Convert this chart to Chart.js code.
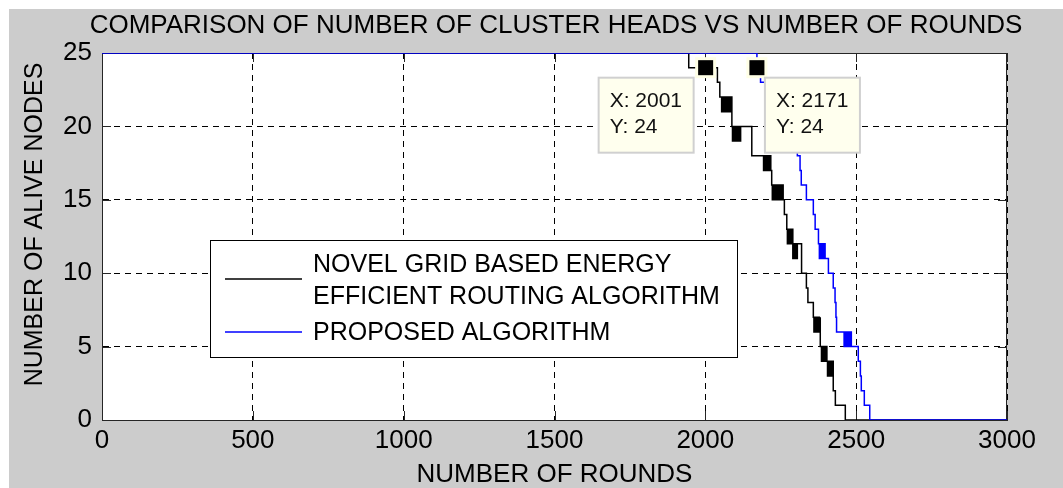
<!DOCTYPE html>
<html>
<head>
<meta charset="utf-8">
<script src="https://cdn.jsdelivr.net/npm/chart.js@4/dist/chart.umd.min.js"></script>
<style>
    html, body { margin: 0; padding: 0; background: #fff; }
    #wrap { width: 1063px; height: 488px; }
</style>
</head>
<body>
<div id="wrap"><canvas id="chart" width="1063" height="488"></canvas></div>
<script>
// texts
const chartTitle = "COMPARISON OF NUMBER OF CLUSTER HEADS VS NUMBER OF ROUNDS";
const xTitle = "NUMBER OF ROUNDS";
const yTitle = "NUMBER OF ALIVE NODES";
const seriesNames = [["NOVEL GRID BASED ENERGY", "EFFICIENT ROUTING ALGORITHM"], ["PROPOSED ALGORITHM"]];

// axes
const xTicks = [0, 500, 1000, 1500, 2000, 2500, 3000];
const yTicks = [0, 5, 10, 15, 20, 25];

// [round, value] = value from that round on
// [from, to, a, b] = value flickers between a and b over that range
const novelSteps = [
    [0, 25], [1945, 24], [2040, 23], [2048, 22],
    [2054, 2088, 22, 21], [2088, 20],
    [2090, 2118, 20, 19], [2118, 20],
    [2154, 18], [2193, 2218, 18, 17], [2220, 16],
    [2222, 2259, 16, 15], [2259, 15], [2262, 14], [2270, 13],
    [2272, 2290, 13, 12], [2290, 2305, 12, 11], [2306, 12],
    [2319, 10], [2335, 9], [2340, 8], [2358, 7],
    [2360, 2381, 7, 6], [2381, 5],
    [2385, 2405, 5, 4], [2405, 2422, 4, 3],
    [2424, 2], [2431, 1], [2464, 0], [3000, 0]
];
const proposedSteps = [
    [0, 25], [2171, 24], [2183, 23], [2210, 22], [2240, 21], [2265, 20],
    [2290, 19], [2305, 18], [2314, 17], [2318, 16], [2335, 15],
    [2358, 14], [2364, 13], [2375, 12],
    [2378, 2395, 12, 11], [2397, 11], [2408, 10], [2424, 9],
    [2430, 8], [2433, 7], [2435, 6],
    [2460, 2485, 6, 5], [2486, 5], [2507, 4], [2514, 3], [2517, 2],
    [2527, 1], [2545, 0], [3000, 0]
];

// data tips shown on the plot: [x, y]
const dataTips = [[2001, 24], [2171, 24]];

const seriesColors = ["#000000", "#0000ff"];
const FONT = "'Liberation Sans', Arial, sans-serif";

/**
 * step list -> chart points
 */
function buildPoints(steps) {
    let pts = [];
    steps.forEach(s => {
        if (s.length === 2) {
            pts.push({ x: s[0], y: s[1] });
        } else {
            let [r0, r1, a, b] = s;
            let v = b;
            for (let r = r0; r <= r1; r += 3) {
                pts.push({ x: r, y: v });
                v = (v === a) ? b : a;
            }
        }
    });
    return pts;
}

// figure background, box, ticks, texts, legend, data tips
const matlabLook = {
    id: "matlabLook",
    beforeDraw(chart) {
        const ctx = chart.ctx;
        const a = chart.chartArea;
        ctx.save();
        ctx.fillStyle = "#ffffff";
        ctx.fillRect(0, 0, chart.width, chart.height);
        ctx.fillStyle = "#cccccc";
        ctx.fillRect(9, 9, chart.width - 9, chart.height - 9);
        ctx.fillStyle = "#ffffff";
        ctx.fillRect(a.left, a.top, a.right - a.left, a.bottom - a.top);
        ctx.restore();
    },
    beforeDatasetsDraw(chart) {
        const ctx = chart.ctx;
        const a = chart.chartArea;
        const xs = chart.scales.x, ys = chart.scales.y;
        ctx.save();
        ctx.strokeStyle = "#262626";
        ctx.lineWidth = 1;
        ctx.beginPath();
        ctx.moveTo(a.left, a.top + 0.5);
        ctx.lineTo(a.right, a.top + 0.5);
        ctx.moveTo(a.right - 0.5, a.top);
        ctx.lineTo(a.right - 0.5, a.bottom);
        // inside ticks
        const len = 9;
        xTicks.forEach(v => {
            let px = Math.round(xs.getPixelForValue(v)) + 0.5;
            ctx.moveTo(px, a.bottom);
            ctx.lineTo(px, a.bottom - len);
            ctx.moveTo(px, a.top);
            ctx.lineTo(px, a.top + len);
        });
        yTicks.forEach(v => {
            let py = Math.round(ys.getPixelForValue(v)) + 0.5;
            ctx.moveTo(a.left, py);
            ctx.lineTo(a.left + len, py);
            ctx.moveTo(a.right, py);
            ctx.lineTo(a.right - len, py);
        });
        ctx.stroke();
        ctx.restore();
    },
    afterDraw(chart) {
        const ctx = chart.ctx;
        const a = chart.chartArea;
        const xs = chart.scales.x, ys = chart.scales.y;
        ctx.save();
        ctx.fillStyle = "#000";

        // title + axis titles
        ctx.font = "26px " + FONT;
        ctx.textAlign = "center";
        ctx.textBaseline = "alphabetic";
        ctx.fillText(chartTitle, 556, 33);
        ctx.fillText(xTitle, (a.left + a.right) / 2, 482);
        ctx.save();
        ctx.font = "25px " + FONT;
        ctx.translate(42, (a.top + a.bottom) / 2 - 12);
        ctx.rotate(-Math.PI / 2);
        ctx.fillText(yTitle, 0, 0);
        ctx.restore();

        // legend
        ctx.fillStyle = "#ffffff";
        ctx.fillRect(210, 240, 527, 117);
        ctx.strokeStyle = "#000";
        ctx.lineWidth = 1;
        ctx.strokeRect(210.5, 240.5, 527, 117);
        ctx.font = "25px " + FONT;
        ctx.textAlign = "left";
        ctx.textBaseline = "middle";
        ctx.fillStyle = "#000";
        ctx.fillText(seriesNames[0][0], 313, 265);
        ctx.fillText(seriesNames[0][1], 313, 297);
        ctx.fillText(seriesNames[1][0], 313, 333);
        ctx.lineWidth = 1.5;
        ctx.strokeStyle = seriesColors[0];
        ctx.beginPath(); ctx.moveTo(225, 279); ctx.lineTo(302, 279); ctx.stroke();
        ctx.strokeStyle = seriesColors[1];
        ctx.beginPath(); ctx.moveTo(225, 332); ctx.lineTo(302, 332); ctx.stroke();

        // data tips
        dataTips.forEach((t, i) => {
            let px = xs.getPixelForValue(t[0]);
            let py = ys.getPixelForValue(t[1]);
            ctx.fillStyle = "#ffffe6";
            ctx.fillRect(px - 10.5, py - 10.5, 21, 21);
            ctx.fillStyle = "#000";
            ctx.fillRect(px - 7.5, py - 7.5, 15, 15);

            let w = 95, h = 75;
            let bx = i === 0 ? px - 12 - w : px + 8;
            let by = py + 10;
            ctx.fillStyle = "#ffffee";
            ctx.fillRect(bx, by, w, h);
            ctx.strokeStyle = "#d0d0d0";
            ctx.lineWidth = 2;
            ctx.strokeRect(bx, by, w, h);
            ctx.fillStyle = "#111";
            ctx.font = "21px " + FONT;
            ctx.textAlign = "left";
            ctx.textBaseline = "middle";
            ctx.fillText("X: " + t[0], bx + 11, by + 24);
            ctx.fillText("Y: " + t[1], bx + 11, by + 50);
        });
        ctx.restore();
    }
};

function createChart() {
    let ctx = document.getElementById("chart").getContext("2d");
    return new Chart(ctx, {
        type: "line",
        data: {
            datasets: [
                {
                    label: seriesNames[1].join(" "),
                    data: buildPoints(proposedSteps),
                    borderColor: seriesColors[1],
                    borderWidth: 1.5,
                    stepped: true,
                    pointRadius: 0,
                    fill: false
                },
                {
                    label: seriesNames[0].join(" "),
                    data: buildPoints(novelSteps),
                    borderColor: seriesColors[0],
                    borderWidth: 1.5,
                    stepped: true,
                    pointRadius: 0,
                    fill: false
                }
            ]
        },
        options: {
            responsive: false,
            animation: false,
            events: [],
            layout: { padding: { left: 0, right: 56, top: 53, bottom: 0 } },
            plugins: {
                legend: { display: false },
                title: { display: false },
                tooltip: { enabled: false }
            },
            scales: {
                x: {
                    type: "linear",
                    min: 0,
                    max: 3000,
                    afterBuildTicks: s => { s.ticks = xTicks.map(v => ({ value: v })); },
                    afterFit: s => { s.height = 68; },
                    ticks: {
                        font: { family: FONT, size: 26 }, color: "#000", padding: 5, maxRotation: 0,
                        callback: v => String(v)
                    },
                    grid: { color: "#000", lineWidth: 1, drawTicks: false, tickLength: 0 },
                    border: { display: true, color: "#262626", width: 1, dash: [6, 5] }
                },
                y: {
                    type: "linear",
                    min: 0,
                    max: 25,
                    afterBuildTicks: s => { s.ticks = yTicks.map(v => ({ value: v })); },
                    afterFit: s => { s.width = 102; },
                    ticks: {
                        font: { family: FONT, size: 26 }, color: "#000", padding: 10,
                        callback: v => String(v)
                    },
                    grid: { color: "#000", lineWidth: 1, drawTicks: false, tickLength: 0 },
                    border: { display: true, color: "#262626", width: 1, dash: [6, 5] }
                }
            }
        },
        plugins: [matlabLook]
    });
}

createChart();
</script>
</body>
</html>
